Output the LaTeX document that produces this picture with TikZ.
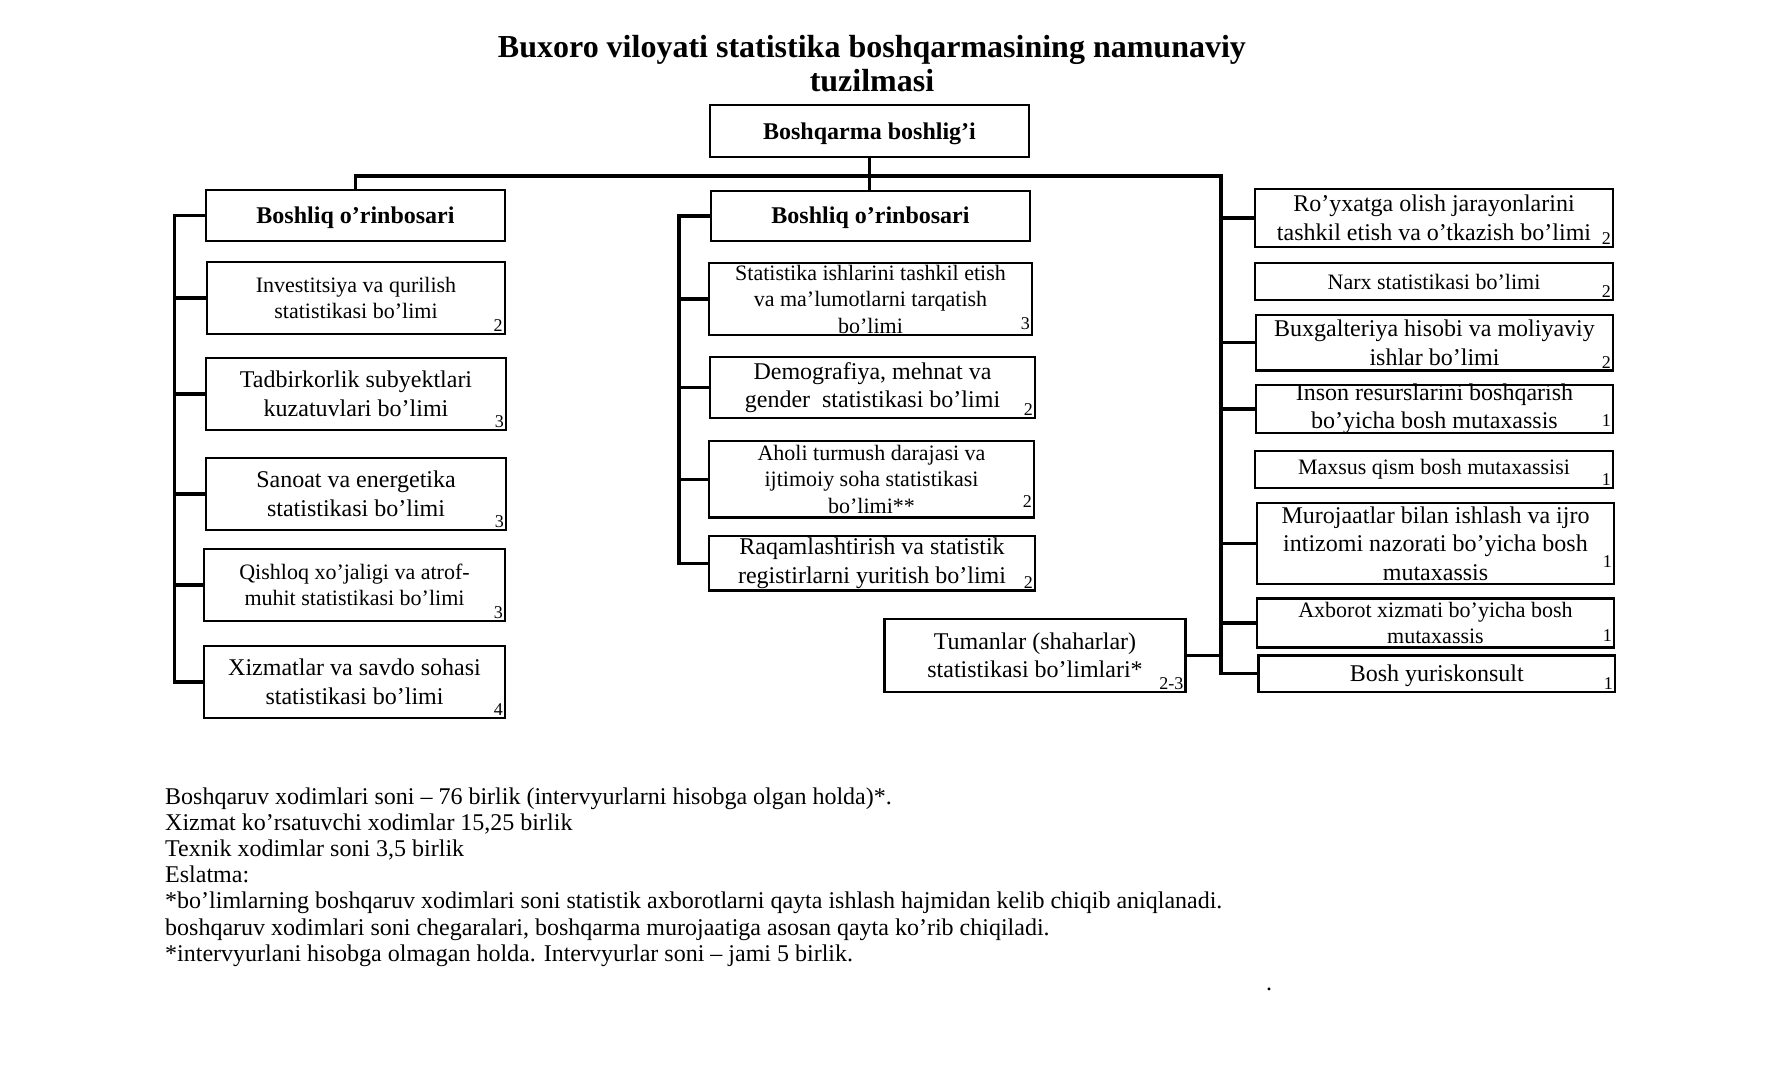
\documentclass[tikz,border=0pt]{standalone}
\usepackage{fontspec}
\setmainfont{Liberation Serif}
\begin{document}
\begin{tikzpicture}[x=1pt,y=-1pt,
  boxframe/.style={draw, line width=2.3pt, inner sep=0pt},
  bxt/.style={align=center, inner sep=0pt, font=\fontsize{24}{28.5}\selectfont},
  bxs/.style={align=center, inner sep=0pt, font=\fontsize{22}{26.5}\selectfont},
  hd/.style={align=center, inner sep=0pt, font=\bfseries\fontsize{24}{26}\selectfont},
  cnt/.style={font=\fontsize{18}{18}\selectfont, inner sep=3pt, anchor=south east},
  conn/.style={line width=3.4pt},
  fn/.style={anchor=base west, inner sep=0pt, font=\fontsize{24}{26}\selectfont},
  ttl/.style={anchor=base, inner sep=0pt, font=\bfseries\fontsize{32}{34}\selectfont}]
\newcommand\orgbox[7]{%
  \node[boxframe, minimum width=#5pt, minimum height=#6pt] (#2) at (#3,#4) {};
  \node[#1] (#2-t) at (#2.center) {#7};}
\useasboundingbox (0,0) rectangle (1785,1080);
\fill[white] (0,0) rectangle (1785,1080);
% title
\node[ttl] (t1) at (872,57) {Buxoro viloyati statistika boshqarmasining namunaviy};
\node[ttl] (t2) at (872,91.5) {tuzilmasi};
% top
\orgbox{hd, yshift=-3pt}{bq}{869.5}{131}{319}{52}{Boshqarma boshlig’i}
% left column
\orgbox{hd, yshift=-2pt}{lb}{355.5}{215.5}{299}{51}{Boshliq o’rinbosari}
\orgbox{bxs}{inv}{356}{298}{297.5}{72}{Investitsiya va qurilish\\statistikasi bo’limi}
\orgbox{bxt}{tad}{356}{394}{300}{72}{Tadbirkorlik subyektlari\\kuzatuvlari bo’limi}
\orgbox{bxt}{san}{356}{494}{300}{72}{Sanoat va energetika\\statistikasi bo’limi}
\orgbox{bxs}{qis}{354.5}{585}{301}{71.5}{Qishloq xo’jaligi va atrof-\\muhit statistikasi bo’limi}
\orgbox{bxt}{xiz}{354.5}{682}{301}{72}{Xizmatlar va savdo sohasi\\statistikasi bo’limi}
% middle column
\orgbox{hd, yshift=-2pt}{mb}{870.5}{216}{319}{50}{Boshliq o’rinbosari}
\orgbox{bxs}{sta}{870.5}{299}{323}{72}{Statistika ishlarini tashkil etish\\va ma’lumotlarni tarqatish\\bo’limi}
\orgbox{bxt}{dem}{872.5}{387.5}{325}{61}{Demografiya, mehnat va\\gender\ \ statistikasi bo’limi}
\orgbox{bxs}{aho}{871.5}{479.3}{325}{76.6}{Aholi turmush darajasi va\\ijtimoiy soha statistikasi\\bo’limi**}
\orgbox{bxt}{raq}{872}{563.3}{326}{54.5}{Raqamlashtirish va statistik\\registirlarni yuritish bo’limi}
\orgbox{bxt}{tum}{1035}{655.5}{301}{73}{Tumanlar (shaharlar)\\statistikasi bo’limlari*\hspace{28pt}}
% right column
\orgbox{bxt}{roy}{1434}{218}{358}{58}{Ro’yxatga olish jarayonlarini\\tashkil etish va o’tkazish bo’limi\hspace{10pt}}
\orgbox{bxs}{nar}{1434}{281.5}{358}{37}{Narx statistikasi bo’limi}
\orgbox{bxt}{bux}{1434.5}{342.75}{357}{55.5}{Buxgalteriya hisobi va moliyaviy\\ishlar bo’limi}
\orgbox{bxt}{ins}{1434.5}{409}{357}{48}{Inson resurslarini boshqarish\\bo’yicha bosh mutaxassis}
\orgbox{bxs}{max}{1434}{469.5}{358}{37}{Maxsus qism bosh mutaxassisi}
\orgbox{bxt}{mur}{1435.5}{543.5}{357}{81}{Murojaatlar bilan ishlash va ijro\\intizomi nazorati bo’yicha bosh\\mutaxassis}
\orgbox{bxs}{axb}{1435.5}{623}{357}{49}{Axborot xizmati bo’yicha bosh\\mutaxassis}
\orgbox{bxt, yshift=-2pt}{byu}{1436.8}{673.75}{356.4}{36.5}{Bosh yuriskonsult}
% counts
\node[cnt] (inv-c) at (inv.south east) {2};
\node[cnt] (tad-c) at (tad.south east) {3};
\node[cnt] (san-c) at (san.south east) {3};
\node[cnt] (qis-c) at (qis.south east) {3};
\node[cnt] (xiz-c) at (xiz.south east) {4};
\node[cnt, yshift=3pt] (sta-c) at (sta.south east) {3};
\node[cnt] (dem-c) at (dem.south east) {2};
\node[cnt, yshift=8pt] (aho-c) at (aho.south east) {2};
\node[cnt] (raq-c) at (raq.south east) {2};
\node[cnt] (tum-c) at (tum.south east) {2-3};
\node[cnt] (roy-c) at (roy.south east) {2};
\node[cnt] (nar-c) at (nar.south east) {2};
\node[cnt] (bux-c) at (bux.south east) {2};
\node[cnt, yshift=4pt] (ins-c) at (ins.south east) {1};
\node[cnt] (max-c) at (max.south east) {1};
\node[cnt, yshift=14pt] (mur-c) at (mur.south east) {1};
\node[cnt, yshift=4pt] (axb-c) at (axb.south east) {1};
\node[cnt] (byu-c) at (byu.south east) {1};
% connectors
\coordinate (rbtop) at (1221,176);
\coordinate (lbx) at (174.4,0);
\coordinate (mbx) at (679,0);
\draw[conn] (bq.south) -- (bq.south |- mb.north);
\draw[conn] (lb.north) |- (rbtop) |- (byu.west);
\draw[conn] (lb.west) -- (lb.west -| lbx) |- (xiz.west);
\foreach \n in {inv,tad,san,qis} \draw[conn] (\n.west) -- (\n.west -| lbx);
\draw[conn] (mb.west) -- (mb.west -| mbx) |- (raq.west);
\foreach \n in {sta,dem,aho} \draw[conn] (\n.west) -- (\n.west -| mbx);
\foreach \n in {roy,bux,ins,mur,axb} \draw[conn] (\n.west) -- (\n.west -| rbtop);
\draw[conn] (tum.east) -- (tum.east -| rbtop);
% footnotes
\node[fn] (fn1) at (165,804) {Boshqaruv xodimlari soni – 76 birlik (intervyurlarni hisobga olgan holda)*.};
\node[fn] (fn2) at (165,830.2) {Xizmat ko’rsatuvchi xodimlar 15,25 birlik};
\node[fn] (fn3) at (165,856.4) {Texnik xodimlar soni 3,5 birlik};
\node[fn] (fn4) at (165,882.6) {Eslatma:};
\node[fn] (fn5) at (165,908.8) {*bo’limlarning boshqaruv xodimlari soni statistik axborotlarni qayta ishlash hajmidan kelib chiqib aniqlanadi.};
\node[fn] (fn6) at (165,935) {boshqaruv xodimlari soni chegaralari, boshqarma murojaatiga asosan qayta ko’rib chiqiladi.};
\node[fn] (fn7) at (165,961.2) {*intervyurlani hisobga olmagan holda. Intervyurlar soni – jami 5 birlik.};
\node[fn] (dot) at (1266,990) {.};
\end{tikzpicture}
\end{document}
